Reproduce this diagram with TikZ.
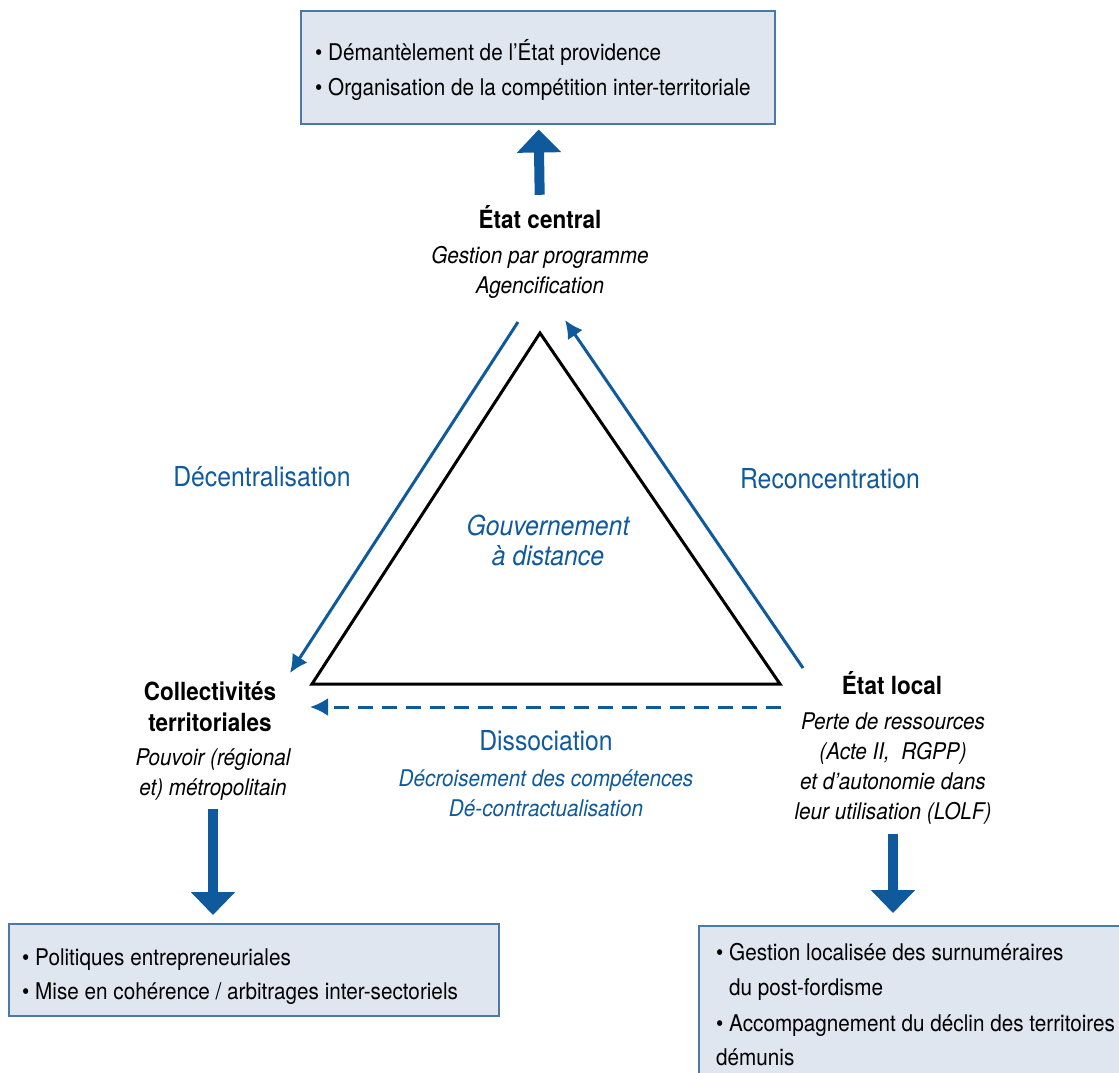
\documentclass[tikz,border=0pt]{standalone}
\usepackage{fontspec}
\setmainfont{TeX Gyre Heros}[FakeStretch=0.9]
\usepackage{xcolor}
\usetikzlibrary{arrows.meta,positioning,calc}

\definecolor{schemablue}{HTML}{0F5A9C}
\definecolor{boxfill}{HTML}{DFE6F0}
\definecolor{boxline}{HTML}{4A78A8}

\newcommand{\txtsize}{\fontsize{23}{30}\selectfont}
\newcommand{\ttlsize}{\fontsize{25}{31}\selectfont}
\newcommand{\lblsize}{\fontsize{27.5}{30}\selectfont}

\begin{document}
\begin{tikzpicture}[x=1pt,y=-1pt,
  actor/.style={font=\ttlsize\bfseries, align=center, inner sep=0pt, anchor=base},
  actordesc/.style={font=\txtsize\itshape, align=center, inner sep=0pt, anchor=base},
  process/.style={font=\lblsize, text=schemablue, align=center, inner sep=0pt, anchor=base},
  processdesc/.style={font=\txtsize\itshape, text=schemablue, align=center, inner sep=0pt, anchor=base},
  effectbox/.style={draw=boxline, line width=1.5pt, fill=boxfill, inner sep=0pt, anchor=north west},
  effecttext/.style={font=\txtsize, align=left, inner sep=0pt, anchor=base west},
  bigarrow/.style={draw=schemablue, line width=10pt, -{Triangle[length=23pt,width=43pt]}},
  thinarrow/.style={draw=schemablue, line width=3pt, -{Latex[length=18pt,width=18pt]}},
  tri/.style={draw=black, line width=3pt, line join=miter}]
\clip (0,0) rectangle (1119,1072);

% Effect boxes (multi-line nodes sit on their last baseline)
\node[effectbox, minimum width=474pt, minimum height=113pt] (topbox) at (300,10) {};
\node[effecttext] (toptext) at (315,95) {\textbullet\ Démantèlement de l'État providence\\[5pt]
  \textbullet\ Organisation de la compétition inter-territoriale};
\node[effectbox, minimum width=490pt, minimum height=92pt] (leftbox) at (8,923) {};
\node[effecttext] (lefttext) at (22,999) {\textbullet\ Politiques entrepreneuriales\\[4pt]
  \textbullet\ Mise en cohérence / arbitrages inter-sectoriels};
\node[effectbox, minimum width=440pt, minimum height=170pt] (rightbox) at (698,925) {};
\node[effecttext] (righttext) at (716,1065) {\textbullet\ Gestion localisée des surnuméraires\\[5pt]
  \phantom{\textbullet\ }du post-fordisme\\[6pt]
  \textbullet\ Accompagnement du déclin des territoires\\[4pt]
  démunis};

% Actors
\node[actor] (central) at (540,228) {État central};
\node[actordesc] (centraldesc) at (540,293) {Gestion par programme\\Agencification};
\node[actor] (collect) at (210,731) {Collectivités\\territoriales};
\node[actordesc] (collectdesc) at (213,795) {Pouvoir (régional\\et) métropolitain};
\node[actor] (local) at (892,694) {État local};
\node[actordesc] (localdesc) at (893,819) {Perte de ressources\\(Acte II,~ RGPP)\\et d'autonomie dans\\leur utilisation (LOLF)};

% Triangle
\coordinate (apex) at (540,333);
\coordinate (bl) at (312,684);
\coordinate (br) at (780,684);
\draw[tri] (apex) -- (bl) -- (br) -- cycle;

% Processes
\coordinate (decstart) at (518,322);
\coordinate (decend) at (290,673);
\coordinate (recstart) at (803,668);
\coordinate (recend) at (565,320);
\coordinate (disstart) at (781,707);
\coordinate (disend) at (310,707);
\draw[thinarrow] (decstart) -- (decend);
\draw[thinarrow] (recstart) -- (recend);
\draw[thinarrow, dash pattern=on 15pt off 9pt] (disstart) -- (disend);

\node[process] (decentr) at (262,486) {Décentralisation};
\node[process] (reconc) at (830,488) {Reconcentration};
\node[process, font=\lblsize\itshape] (gouv) at (548,565) {Gouvernement\\à distance};
\node[process] (dissoc) at (546,750) {Dissociation};
\node[processdesc] (dissocdesc) at (546,816) {Décroisement des compétences\\Dé-contractualisation};

% Effects
\draw[bigarrow, shorten <=10pt, shorten >=5pt] (central) -- (topbox);
\draw[bigarrow, shorten <=9pt, shorten >=8pt] (collectdesc.south) -- (collectdesc.south |- leftbox.north);
\draw[bigarrow, shorten <=10pt, shorten >=12pt] (localdesc.south) -- (localdesc.south |- rightbox.north);
\end{tikzpicture}
\end{document}
